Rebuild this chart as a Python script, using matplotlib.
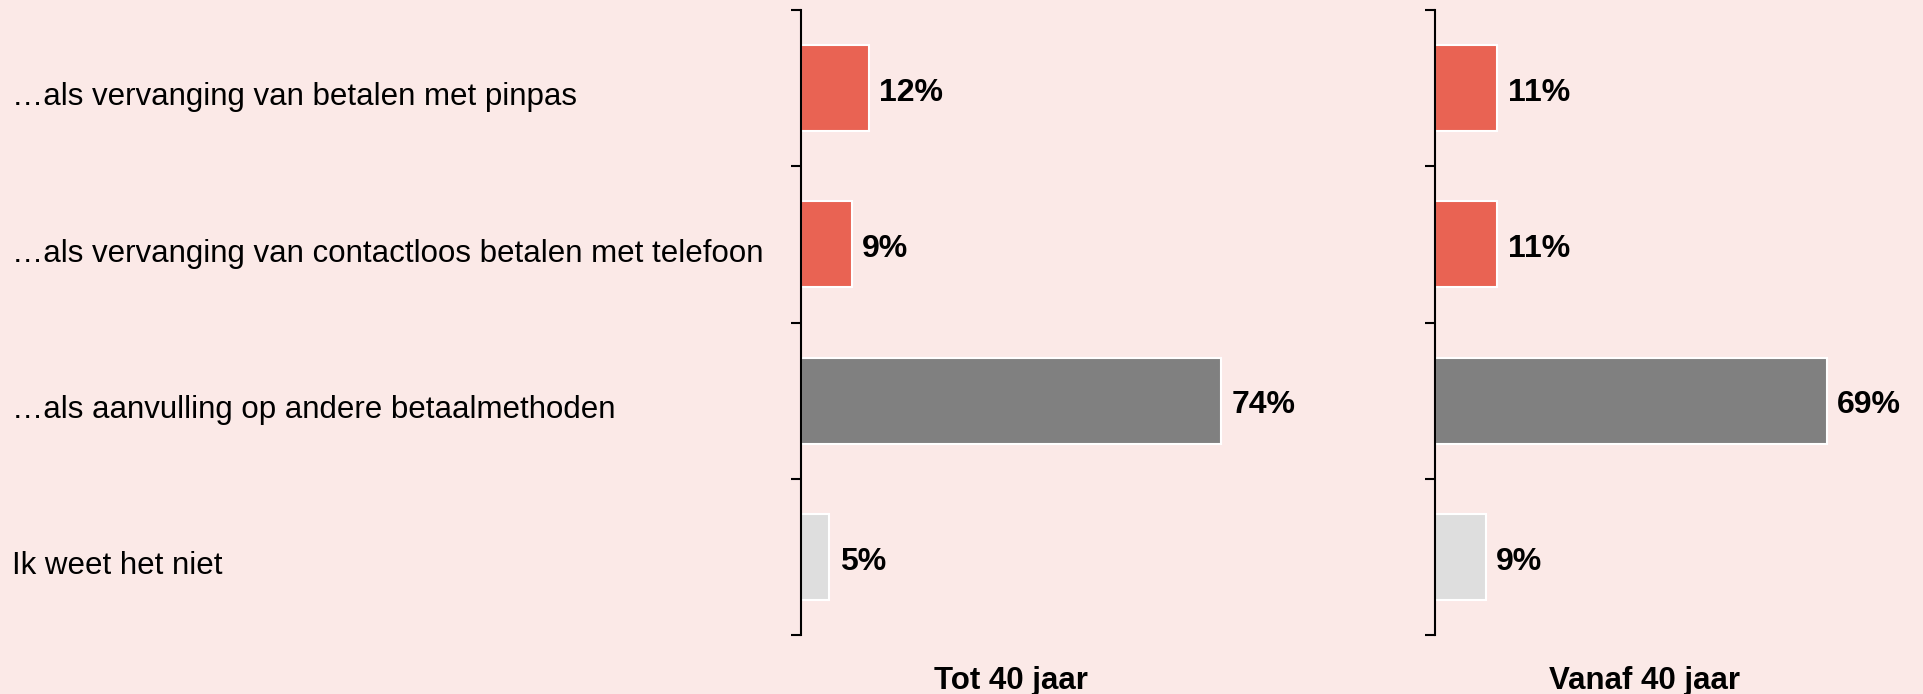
import numpy as np
import matplotlib.pyplot as plt
from matplotlib.transforms import blended_transform_factory

# data
categories = [
    "\u2026als vervanging van betalen met pinpas",
    "\u2026als vervanging van contactloos betalen met telefoon",
    "\u2026als aanvulling op andere betaalmethoden",
    "Ik weet het niet",
]
groups = ["Tot 40 jaar", "Vanaf 40 jaar"]
tot_40 = [12, 9, 74, 5]
vanaf_40 = [11, 11, 69, 9]

bg = "#FBE9E7"
bar_colors = ["#E96353", "#E96353", "#808080", "#DEDEDE"]

plt.rcParams["font.family"] = ["Liberation Sans", "DejaVu Sans"]

fig = plt.figure(figsize=(19.24, 6.94), dpi=100, facecolor=bg)

ax_left = fig.add_axes([0.4163, 0.085, 0.2537, 0.9006])
ax_right = fig.add_axes([0.7458, 0.085, 0.2537, 0.9006])

y = np.arange(len(categories))

for ax, values, title in [(ax_left, tot_40, groups[0]), (ax_right, vanaf_40, groups[1])]:
    ax.set_facecolor(bg)
    ax.barh(y, values, height=0.55, color=bar_colors, edgecolor="white", linewidth=1.5)
    for yi, v in zip(y, values):
        ax.text(v + 1.8, yi + 0.03, f"{v}%", va="center", ha="left",
                fontsize=23, fontweight="bold", color="black")
    ax.set_xlim(0, 86)
    ax.set_ylim(3.5, -0.5)
    for side in ["top", "right", "bottom"]:
        ax.spines[side].set_visible(False)
    ax.spines["left"].set_linewidth(1.5)
    ax.set_yticks(np.arange(-0.5, len(categories), 1.0))
    ax.set_yticklabels([])
    ax.tick_params(axis="y", length=7, width=1.5, direction="out")
    ax.set_xticks([])
    ax.text(0.43, -0.05, title, transform=ax.transAxes, ha="center", va="top",
            fontsize=22.5, fontweight="bold")

# category labels on the far left
label_tf = blended_transform_factory(fig.transFigure, ax_left.transData)
for yi, cat in zip(y, categories):
    ax_left.text(0.006, yi + 0.06, cat, transform=label_tf,
                 ha="left", va="center", fontsize=22.5)

fig.savefig("out.png", dpi=100, facecolor=bg)
